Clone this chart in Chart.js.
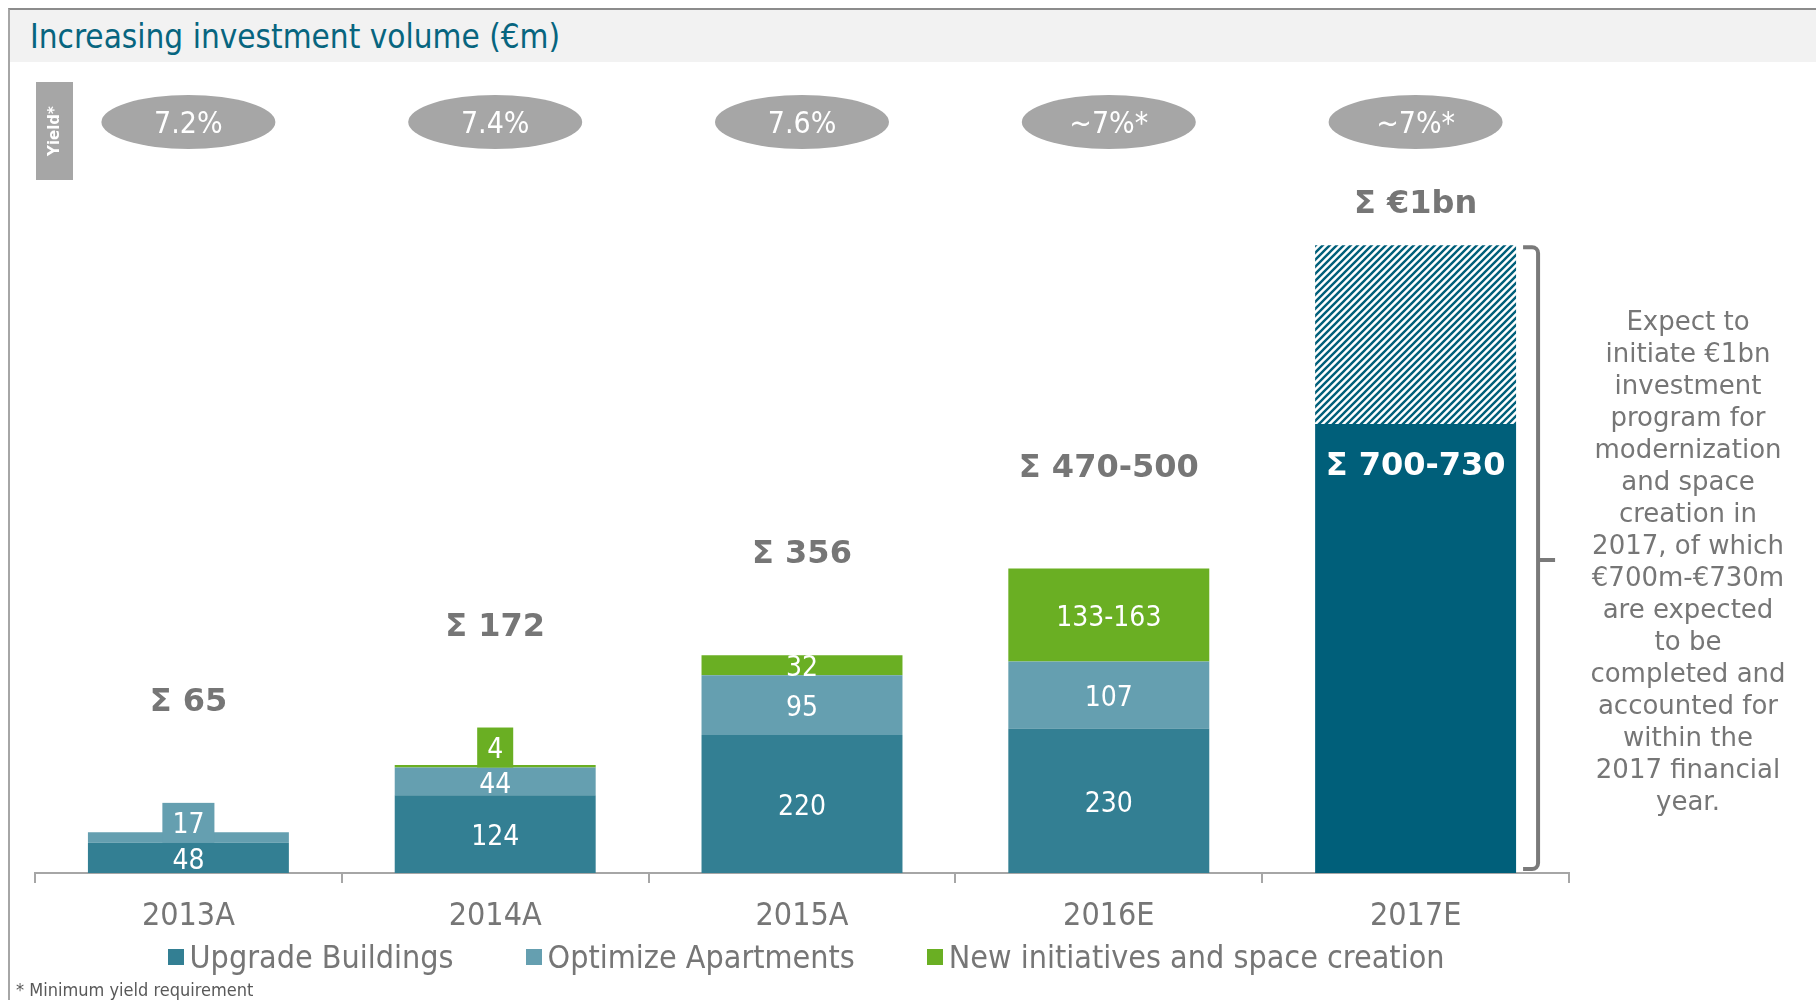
<!DOCTYPE html>
<html>
<head>
<meta charset="utf-8">
<script src="https://cdn.jsdelivr.net/npm/chart.js@4.4.1/dist/chart.umd.min.js"></script>
<style>
body{margin:0;width:1816px;height:1000px;overflow:hidden;position:relative;background:#fff;font-family:"DejaVu Sans Condensed","DejaVu Sans",sans-serif}
#frame{position:absolute;left:8px;top:8px;width:1820px;height:1000px;border-left:2px solid #a6a6a6;border-top:2px solid #8c8c8c}
#band{position:absolute;left:10px;top:10px;width:1806px;height:52px;background:#f2f2f2}
#title{position:absolute;left:30px;top:17px;line-height:40px;font-size:33px;color:#07657f;white-space:nowrap}
#chart{position:absolute;left:0;top:0}
#note{position:absolute;left:1575px;top:305px;width:226px;text-align:center;font-family:"DejaVu Sans",sans-serif;font-size:26px;line-height:32px;color:#767676}
#legend{position:absolute;left:0;top:938px;width:1612px;display:flex;justify-content:center;gap:72px;font-size:32px;line-height:38px;color:#767676}
#legend span.item{display:flex;align-items:center;white-space:nowrap}
#legend span.box{display:inline-block;width:16px;height:16px;margin-right:6px}
#foot{position:absolute;left:16px;top:980px;font-size:18px;line-height:20px;color:#595959}
</style>
</head>
<body>
<div id="frame"></div>
<div id="band"></div>
<div id="title">Increasing investment volume (€m)</div>
<canvas id="chart" width="1816" height="1000"></canvas>
<div id="note">Expect to<br>initiate €1bn<br>investment<br>program for<br>modernization<br>and space<br>creation in<br>2017, of which<br>€700m-€730m<br>are expected<br>to be<br>completed and<br>accounted for<br>within the<br>2017 financial<br>year.</div>
<div id="legend"></div>
<div id="foot">* Minimum yield requirement</div>
<script>
// chart values (€m)
const years = ["2013A","2014A","2015A","2016E","2017E"];
const upgradeBuildings = [48,124,220,230,715];
const optimizeApartments = [17,44,95,107,0];
const newInitiatives = [0,4,32,148,0];
const programRest = [0,0,0,0,285]; // rest of the €1bn program
const upgradeText = ["48","124","220","230","Σ 700-730"];
const optimizeText = ["17","44","95","107",""];
const newText = ["","4","32","133-163",""];
const totalText = ["Σ 65","Σ 172","Σ 356","Σ 470-500","Σ €1bn"];
const yieldText = ["7.2%","7.4%","7.6%","~7%*","~7%*"];

// hatched fill for the not yet accounted part
function hatch(){
const c=document.createElement("canvas");
c.width=7;c.height=7;
const g=c.getContext("2d");
g.fillStyle="#fff";
g.fillRect(0,0,7,7);
g.strokeStyle="#005f7a";
g.lineWidth=2.4;
g.beginPath();
g.moveTo(-1,8);g.lineTo(8,-1);
g.moveTo(-4,4);g.lineTo(4,-4);
g.moveTo(3,11);g.lineTo(11,3);
g.stroke();
return g.createPattern(c,"repeat");
}

// labels, sums, yields, bracket
const overlay={
id:"overlay",
afterDatasetsDraw(chart){
const ctx=chart.ctx;
const xs=chart.scales.x, ys=chart.scales.y;
const tops=years.map(()=>Infinity);
ctx.save();
ctx.textAlign="center";
ctx.textBaseline="middle";

chart.data.datasets.forEach((ds,di)=>{
const meta=chart.getDatasetMeta(di);
meta.data.forEach((bar,i)=>{
if(!ds.data[i]) return;
let top=bar.y;
const txt=ds.texts?ds.texts[i]:"";
if(txt){
const h=bar.base-bar.y;
if(txt.startsWith("Σ")){
ctx.font='bold 32px "DejaVu Sans"';
ctx.fillStyle="#fff";
ctx.fillText(txt,bar.x,bar.y+43);
}else{
ctx.font='28px "DejaVu Sans Condensed"';
if(h<16){
const w=ctx.measureText(txt).width+20;
top=bar.base-40;
ctx.fillStyle=Array.isArray(ds.backgroundColor)?ds.backgroundColor[i]:ds.backgroundColor;
ctx.fillRect(bar.x-w/2,top,w,40);
ctx.fillStyle="#fff";
ctx.fillText(txt,bar.x,top+23);
}else{
ctx.fillStyle="#fff";
ctx.fillText(txt,bar.x,bar.y+h/2+4);
}
}
}
tops[i]=Math.min(tops[i],top);
});
});

// sums above the stacks
ctx.font='bold 32px "DejaVu Sans"';
ctx.fillStyle="#767676";
tops.forEach((t,i)=>{
ctx.fillText(totalText[i],xs.getPixelForValue(i),Math.max(t-100,205));
});

// yield row
ctx.fillStyle="#a6a6a6";
ctx.fillRect(36,82,37,98);
ctx.save();
ctx.translate(55,131);
ctx.rotate(-Math.PI/2);
ctx.fillStyle="#fff";
ctx.font='bold 15px "DejaVu Sans"';
ctx.fillText("Yield*",0,0);
ctx.restore();
yieldText.forEach((t,i)=>{
const cx=xs.getPixelForValue(i);
ctx.fillStyle="#a6a6a6";
ctx.beginPath();
ctx.ellipse(cx,122,87,27,0,0,Math.PI*2);
ctx.fill();
ctx.fillStyle="#fff";
ctx.font='30px "DejaVu Sans Condensed"';
ctx.fillText(t,cx,125);
});

// bracket next to the 2017E bar
const b=chart.getDatasetMeta(3).data[4];
const right=b.x+b.width/2;
const top=b.y+2, bot=ys.getPixelForValue(0)-4;
const vx=right+22, mid=(top+bot)/2+2;
ctx.strokeStyle="#7a7a7a";
ctx.lineWidth=4;
ctx.beginPath();
ctx.moveTo(right+7,top);
ctx.arcTo(vx,top,vx,mid,6);
ctx.lineTo(vx,mid);
ctx.lineTo(vx+17,mid);
ctx.moveTo(vx,mid);
ctx.arcTo(vx,bot,right+7,bot,6);
ctx.lineTo(right+7,bot);
ctx.stroke();
ctx.restore();
}
};

const ctx=document.getElementById("chart").getContext("2d");
const chart=new Chart(ctx,{
type:"bar",
data:{
labels:years,
datasets:[
{label:"Upgrade Buildings",data:upgradeBuildings,texts:upgradeText,backgroundColor:["#337f93","#337f93","#337f93","#337f93","#005f7a"]},
{label:"Optimize Apartments",data:optimizeApartments,texts:optimizeText,backgroundColor:"#659fb0"},
{label:"New initiatives and space creation",data:newInitiatives,texts:newText,backgroundColor:"#6aaf23"},
{label:"",data:programRest,backgroundColor:hatch()}
]
},
options:{
responsive:false,
animation:false,
layout:{padding:{left:35,right:247,top:151,bottom:0}},
datasets:{bar:{categoryPercentage:1,barPercentage:0.655,borderWidth:0}},
plugins:{legend:{display:false},tooltip:{enabled:false}},
scales:{
x:{
stacked:true,
offset:true,
grid:{display:true,offset:true,drawOnChartArea:false,drawTicks:true,tickLength:10,color:"#a6a6a6",lineWidth:2},
border:{display:true,color:"#a6a6a6",width:2},
ticks:{color:"#767676",font:{family:"DejaVu Sans Condensed",size:32},padding:14},
afterFit(s){s.height=127;}
},
y:{stacked:true,display:false,min:0,max:1150}
}
},
plugins:[overlay]
});

// legend from the datasets
const legendEl=document.getElementById("legend");
chart.data.datasets.filter(d=>d.label).forEach(d=>{
const col=Array.isArray(d.backgroundColor)?d.backgroundColor[0]:d.backgroundColor;
const item=document.createElement("span");
item.className="item";
item.innerHTML='<span class="box" style="background:'+col+'"></span>'+d.label;
legendEl.appendChild(item);
});
</script>
</body>
</html>
